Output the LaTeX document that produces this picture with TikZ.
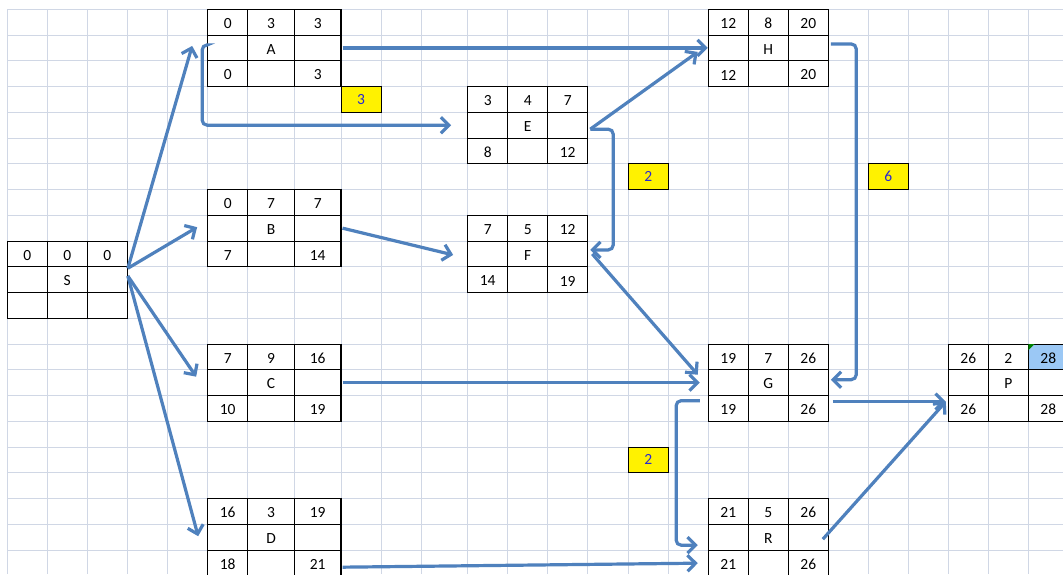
\documentclass[tikz,border=0pt]{standalone}
\usepackage{fontspec}
\setmainfont{Carlito}
\usetikzlibrary{arrows.meta,calc}
\definecolor{gridc}{RGB}{208,215,229}
\definecolor{arrowc}{RGB}{79,129,189}
\definecolor{lblc}{RGB}{40,40,210}
\definecolor{selc}{RGB}{155,200,245}
\definecolor{errc}{RGB}{0,128,0}
\tikzset{
  gridline/.style={draw=gridc, line width=1pt},
  boxshape/.style={rectangle, draw=black, line width=1.1pt, minimum height=77.25pt, inner sep=0pt},
  boxline/.style={draw=black, line width=1.1pt},
  celltext/.style={inner sep=0pt, font=\fontsize{15.5}{18}\selectfont},
  lbl/.style={rectangle, draw=black, fill=yellow, line width=0.9pt, minimum width=40pt, minimum height=25.75pt, inner sep=0pt, text=lblc, font=\fontsize{15.5}{18}\selectfont},
  conn/.style={draw=arrowc, line width=3.2pt, -{Straight Barb[length=8pt,width=16pt]}, rounded corners=5pt},
}
\newcommand{\cpmbox}[4]{% name, xleft, ytop, w2
  \def\bname{#1}\def\bx{#2}\def\by{#3}\def\bww{#4}%
  \pgfmathsetmacro\bw{40+2*#4}%
  \node[boxshape, minimum width=\bw pt] (#1) at ({#2+\bw/2},{#3+38.625}) {};
  \draw[boxline] ({#2+40},#3) -- ++(0,77.25) ({#2+40+#4},#3) -- ++(0,77.25)
     (#2,{#3+25.75}) -- ++(\bw,0) (#2,{#3+51.5}) -- ++(\bw,0);
}
\newcommand{\cpmtop}[4]{%
  \node[celltext] (\bname-a) at ({\bx+20},{\by+14.2}) {#1};
  \node[celltext] (\bname-b) at ({\bx+40+\bww/2},{\by+14.2}) {#2};
  \node[celltext] (\bname-c) at ({\bx+40+1.5*\bww},{\by+14.2}) {#3};
  \node[celltext] (\bname-m) at ({\bx+40+\bww/2},{\by+39.9}) {#4};
}
\newcommand{\cpmbot}[2]{%
  \node[celltext] (\bname-d) at ({\bx+20},{\by+65.7}) {#1};
  \node[celltext] (\bname-e) at ({\bx+40+1.5*\bww},{\by+65.7}) {#2};
}
\begin{document}
\begin{tikzpicture}[x=1pt,y=-1pt]
\useasboundingbox (0,0) rectangle (1063,574);
\clip (0,0) rectangle (1063,574);
\fill[white] (0,0) rectangle (1063,574);
% spreadsheet grid
\foreach \gx in {7.3,47.7,87.7,127.7,167.7,207.7,247.7,294.3,341,381,421,467.7,507.7,547.7,587.7,628.3,668.3,708.3,748.3,788.3,828.3,868.3,908.3,948.3,988.3,1028.3}
  \draw[gridline] (\gx,9.3) -- (\gx,574);
\foreach \k in {0,...,22}
  \draw[gridline] (7.3,{9.3+25.75*\k}) -- (1063,{9.3+25.75*\k});
% highlighted cell in P
\fill[selc] (1028.3,344.05) rectangle (1068.3,369.8);
% boxes
\cpmbox{S}{7.3}{241.05}{40}
\cpmtop{0}{0}{0}{S}
\cpmbox{A}{207.7}{9.3}{46.65}
\cpmtop{0}{3}{3}{A}\cpmbot{0}{3}
\cpmbox{B}{207.7}{189.55}{46.65}
\cpmtop{0}{7}{7}{B}\cpmbot{7}{14}
\cpmbox{C}{207.7}{344.05}{46.65}
\cpmtop{7}{9}{16}{C}\cpmbot{10}{19}
\cpmbox{D}{207.7}{498.55}{46.65}
\cpmtop{16}{3}{19}{D}\cpmbot{18}{21}
\cpmbox{E}{467.7}{86.55}{40}
\cpmtop{3}{4}{7}{E}\cpmbot{8}{12}
\cpmbox{F}{467.7}{215.3}{40}
\cpmtop{7}{5}{12}{F}\cpmbot{14}{19}
\cpmbox{H}{708.3}{9.3}{40}
\cpmtop{12}{8}{20}{H}\cpmbot{12}{20}
\cpmbox{G}{708.3}{344.05}{40}
\cpmtop{19}{7}{26}{G}\cpmbot{19}{26}
\cpmbox{R}{708.3}{498.55}{40}
\cpmtop{21}{5}{26}{R}\cpmbot{21}{26}
\cpmbox{P}{948.3}{344.05}{40}
\cpmtop{26}{2}{28}{P}\cpmbot{26}{28}
\fill[errc] (1028.3,344.05) -- (1034.5,344.05) -- (1028.3,350.2) -- cycle;
% yellow lag labels
\node[lbl] (L1) at (361,99.4) {3};
\node[lbl] (L2) at (648.3,176.7) {2};
\node[lbl] (L3) at (888.3,176.7) {6};
\node[lbl] (L4) at (648.3,459.9) {2};
% connectors
\draw[conn] ($(S.east)+(0,-11.4)$) -- ($(A.west)+(-15,-2)$);
\draw[conn] ($(S.east)+(0,-11.4)$) -- ($(B.west)+(-10,-1)$);
\draw[conn] ($(S.east)+(0,-3.7)$) -- ($(C.west)+(-11,-6)$);
\draw[conn] ($(S.east)+(0,-3.7)$) -- ($(D.west)+(-9,-1)$);
\draw[conn] ($(A.west)+(-1,-3)$) -- ++(-4,0) |- ($(E.west)+(-16,0)$);
\draw[conn] ($(A.east)+(1,0)$) -- ($(H.west)+(0,0)$);
\draw[conn] ($(E.east)+(2,4)$) -- ($(H.west)+(-10,4)$);
\draw[conn] ($(E.east)+(2,4)$) -- ($(E.east)+(25,4)$) |- ($(F.east)+(2,-4)$);
\draw[conn] ($(B.east)+(1,0)$) -- ($(F.west)+(-14,1)$);
\draw[conn] ($(F.east)+(4,0)$) -- ($(G.west)+(-10,-8)$);
\draw[conn] ($(C.east)+(1,0)$) -- ($(G.west)+(-8,0)$);
\draw[conn] ($(H.east)+(2,-4)$) -- ($(H.east)+(27.4,-4)$) |- ($(G.east)+(2,-3)$);
\draw[conn] ($(G.east)+(4,19)$) -- ($(P.west)+(-2,19)$);
\draw[conn] ($(G.west)+(-8,18)$) -- ($(G.west)+(-31.6,18)$) |- ($(R.west)+(-10,8)$);
\draw[conn] ($(R.east)+(-6,2)$) -- ($(P.west)+(-2,19)$);
\draw[conn] ($(D.east)+(1,30)$) -- ($(R.west)+(-10,26)$);
\end{tikzpicture}
\end{document}
